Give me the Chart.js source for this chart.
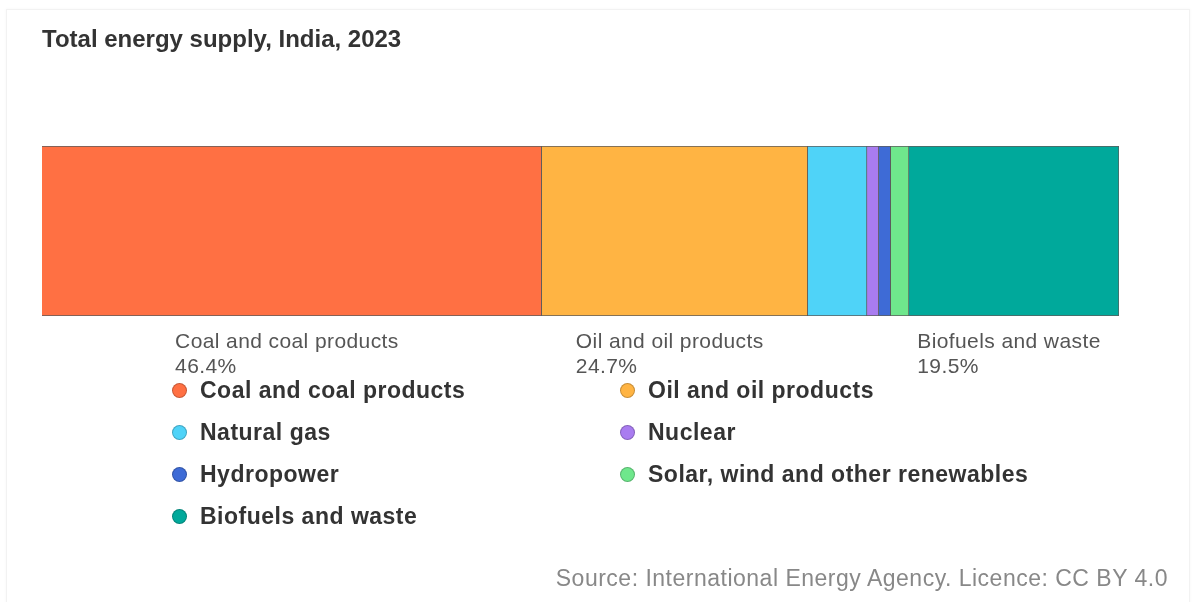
<!DOCTYPE html>
<html>
<head>
<meta charset="utf-8">
<title>Total energy supply, India, 2023</title>
<script src="https://cdn.jsdelivr.net/npm/chart.js@4/dist/chart.umd.min.js"></script>
<style>
    body { margin: 0; background: #fff; font-family: "Liberation Sans", Arial, sans-serif; }
    #wrap { position: relative; width: 1194px; height: 602px; overflow: hidden; }
    #frame { position: absolute; left: 6px; top: 9px; width: 1182px; height: 600px;
             border: 1px solid #f2f2f2; box-shadow: 0 0 3px rgba(0,0,0,0.04); }
    #energyChart { position: absolute; left: 0; top: 0; }
    #title { position: absolute; left: 42px; top: 27px; font-size: 24px; line-height: 24px;
             font-weight: bold; color: #333; white-space: nowrap; }
    #legend { position: absolute; left: 172px; top: 369px; display: grid;
              grid-template-columns: 448px auto; grid-auto-rows: 42px; }
    .item { display: flex; align-items: center; font-size: 23px; font-weight: bold;
            letter-spacing: 0.5px; color: #333; white-space: nowrap; }
    .dot { width: 15px; height: 15px; border-radius: 50%; margin-right: 13px;
           box-sizing: border-box; border: 1px solid rgba(0,0,0,0.22); }
    #source { position: absolute; right: 26px; top: 567px; font-size: 23px; line-height: 22px;
              letter-spacing: 0.5px; color: #888; white-space: nowrap; }
</style>
</head>
<body>
<div id="wrap">
    <div id="frame"></div>
    <canvas id="energyChart" width="1194" height="602"></canvas>
    <div id="title">Total energy supply, India, 2023</div>
    <div id="legend"></div>
    <div id="source">Source: International Energy Agency. Licence: CC BY 4.0</div>
</div>
<script>
// данные (доли в процентах)
const categories = ['India'];
const seriesNames = [
    'Coal and coal products',
    'Oil and oil products',
    'Natural gas',
    'Nuclear',
    'Hydropower',
    'Solar, wind and other renewables',
    'Biofuels and waste'
];
const seriesValues = [46.4, 24.7, 5.5, 1.1, 1.1, 1.7, 19.5];
const seriesColors = ['#ff7043', '#ffb443', '#4fd3f8', '#a97cf0', '#3e6bd6', '#6fe78c', '#00a99b'];
// подписи под полосой только для крупных долей
const labelledSeries = ['Coal and coal products', 'Oil and oil products', 'Biofuels and waste'];

const segmentLabels = {
    id: 'segmentLabels',
    afterDatasetsDraw(chart) {
        const ctx = chart.ctx;
        ctx.save();
        ctx.font = '21px "Liberation Sans", Arial, sans-serif';
        ctx.letterSpacing = '0.4px';
        ctx.fillStyle = '#555';
        ctx.textBaseline = 'alphabetic';
        ctx.textAlign = 'left';
        chart.data.datasets.forEach(function (ds, i) {
            if (!labelledSeries.includes(ds.label)) return;
            const bar = chart.getDatasetMeta(i).data[0];
            const cx = (bar.x + bar.base) / 2;
            const lines = [ds.label, ds.data[0].toFixed(1) + '%'];
            const w = Math.max(...lines.map(t => ctx.measureText(t).width));
            const left = cx - w / 2 - 5;
            const y0 = chart.chartArea.bottom + 32;
            lines.forEach((t, k) => ctx.fillText(t, left, y0 + k * 25));
        });
        ctx.restore();
    }
};

const data = {
    labels: categories,
    datasets: seriesNames.map((name, i) => ({
        label: name,
        data: [seriesValues[i]],
        backgroundColor: seriesColors[i],
        borderColor: '#5c5c5c',
        borderWidth: 1,
        barPercentage: 1,
        categoryPercentage: 1
    }))
};

const config = {
    type: 'bar',
    data: data,
    options: {
        indexAxis: 'y',
        responsive: false,
        animation: false,
        layout: { padding: { left: 42, right: 75, top: 146, bottom: 286 } },
        scales: {
            x: { stacked: true, min: 0, max: 100, display: false },
            y: { stacked: true, display: false }
        },
        plugins: {
            legend: { display: false },
            tooltip: { enabled: false }
        }
    },
    plugins: [segmentLabels]
};

const ctx = document.getElementById('energyChart').getContext('2d');
const chart = new Chart(ctx, config);

// легенда в две колонки
const legendDiv = document.getElementById('legend');
chart.data.datasets.forEach(function (ds) {
    const item = document.createElement('div');
    item.className = 'item';
    const dot = document.createElement('span');
    dot.className = 'dot';
    dot.style.background = ds.backgroundColor;
    item.appendChild(dot);
    item.appendChild(document.createTextNode(ds.label));
    legendDiv.appendChild(item);
});
</script>
</body>
</html>
